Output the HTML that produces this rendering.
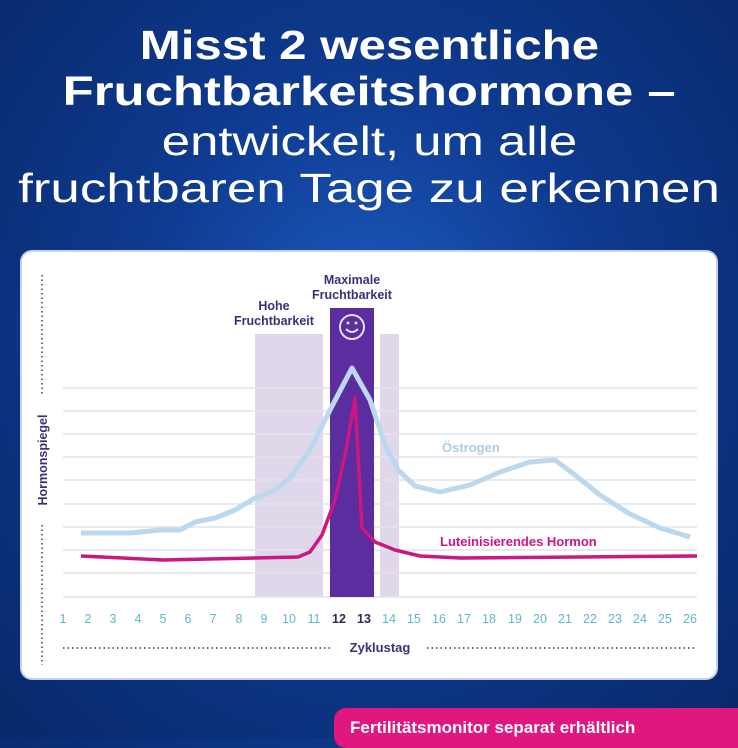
<!DOCTYPE html><html><head><meta charset="utf-8"><style>
body{margin:0;width:738px;height:738px;overflow:hidden;font-family:"Liberation Sans",sans-serif;
background:radial-gradient(ellipse at 50% 45%,#1d5bc0 0%,#0e3a8f 45%,#082868 100%);position:relative}
.t{position:absolute;left:0;width:738px;text-align:center;color:#fff;white-space:nowrap}
.t span{display:inline-block}
</style></head><body>
<div class="t" style="top:22px;font-size:41px;font-weight:bold;line-height:46px"><span style="transform:scaleX(1.2)">Misst 2 wesentliche</span><br><span style="transform:scaleX(1.24)">Fruchtbarkeitshormone –</span></div>
<div class="t" style="top:118px;font-size:41px;line-height:47px"><span style="transform:scaleX(1.24)">entwickelt, um alle</span><br><span style="transform:scaleX(1.29)">fruchtbaren Tage zu erkennen</span></div>
<div style="position:absolute;left:22px;top:252px;width:694px;height:426px;background:#fff;border-radius:10px;box-shadow:0 0 0 2px #c8d2e6"></div>
<svg width="738" height="738" style="position:absolute;left:0;top:0" font-family="Liberation Sans, sans-serif">
<rect x="255" y="334" width="68" height="263" fill="#e0d8ea"/>
<rect x="380" y="334" width="19" height="263" fill="#e0d8ea"/>
<g stroke="#dfe4ec" stroke-width="1.5">
<line x1="63" x2="697" y1="388" y2="388"/><line x1="63" x2="697" y1="411" y2="411"/><line x1="63" x2="697" y1="434" y2="434"/><line x1="63" x2="697" y1="457" y2="457"/><line x1="63" x2="697" y1="480" y2="480"/><line x1="63" x2="697" y1="504" y2="504"/><line x1="63" x2="697" y1="527" y2="527"/><line x1="63" x2="697" y1="550" y2="550"/><line x1="63" x2="697" y1="573" y2="573"/><line x1="63" x2="697" y1="597" y2="597"/></g>
<rect x="330" y="308" width="44" height="289" fill="#5b2d9e"/>
<circle cx="352" cy="327" r="12" fill="none" stroke="#e6dcf5" stroke-width="2"/>
<circle cx="348" cy="323" r="1.5" fill="#e6dcf5"/><circle cx="356" cy="323" r="1.5" fill="#e6dcf5"/>
<path d="M346 329 Q352 335 358 329" fill="none" stroke="#e6dcf5" stroke-width="2"/>
<path d="M81 533 L130 533 L160 530 L180 530 L195 522 L215 518 L235 510 L255 498 L275 490 L290 478 L310 450 L330 410 L352 368 L370 400 L385 445 L398 470 L415 486 L440 492 L470 485 L500 472 L530 462 L555 460 L575 475 L600 495 L630 514 L660 528 L690 537" fill="none" stroke="#bcd8ef" stroke-width="5" stroke-linejoin="round"/>
<path d="M81 556 L163 560 L298 557 L310 552 L322 535 L335 500 L346 450 L355 398 L362 528 L375 542 L395 550 L420 556 L460 558 L697 556" fill="none" stroke="#cc1680" stroke-width="3.5" stroke-linejoin="round"/>
<g font-weight="bold" fill="#3c2f7a" font-size="12.5" text-anchor="middle">
<text x="274" y="310">Hohe</text><text x="274" y="325">Fruchtbarkeit</text>
<text x="352" y="284">Maximale</text><text x="352" y="299">Fruchtbarkeit</text></g>
<text x="442" y="452" font-size="13" font-weight="bold" fill="#a8cde8">Östrogen</text>
<text x="440" y="546" font-size="13" font-weight="bold" fill="#cc1680">Luteinisierendes Hormon</text>
<g font-size="12.5" fill="#5fb8c8" text-anchor="middle">
<text x="63" y="623">1</text><text x="88" y="623">2</text><text x="113" y="623">3</text><text x="138" y="623">4</text><text x="163" y="623">5</text><text x="188" y="623">6</text><text x="213" y="623">7</text><text x="239" y="623">8</text><text x="264" y="623">9</text><text x="289" y="623">10</text><text x="314" y="623">11</text>
<text x="339" y="623" fill="#2a2a55" font-weight="bold">12</text><text x="364" y="623" fill="#2a2a55" font-weight="bold">13</text>
<text x="389" y="623">14</text><text x="414" y="623">15</text><text x="439" y="623">16</text><text x="464" y="623">17</text><text x="489" y="623">18</text><text x="515" y="623">19</text><text x="540" y="623">20</text><text x="565" y="623">21</text><text x="590" y="623">22</text><text x="615" y="623">23</text><text x="640" y="623">24</text><text x="665" y="623">25</text><text x="690" y="623">26</text></g>
<g stroke="#3c3c5c" stroke-width="1.5" stroke-dasharray="1.5 3">
<line x1="63" x2="332" y1="648" y2="648"/><line x1="427" x2="697" y1="648" y2="648"/>
<line x1="42" x2="42" y1="275" y2="395"/><line x1="42" x2="42" y1="525" y2="665"/></g>
<text x="380" y="652" font-size="13" font-weight="bold" fill="#3c2f7a" text-anchor="middle">Zyklustag</text>
<text transform="translate(47,460) rotate(-90)" font-size="12.5" font-weight="bold" fill="#3c2f7a" text-anchor="middle">Hormonspiegel</text>
</svg>
<div style="position:absolute;left:334px;top:708px;width:420px;height:40px;background:#e0177f;border-radius:12px;color:#fff;font-weight:bold;font-size:17px;padding:10px 0 0 16px;box-sizing:border-box">Fertilitätsmonitor separat erhältlich</div>
</body></html>
